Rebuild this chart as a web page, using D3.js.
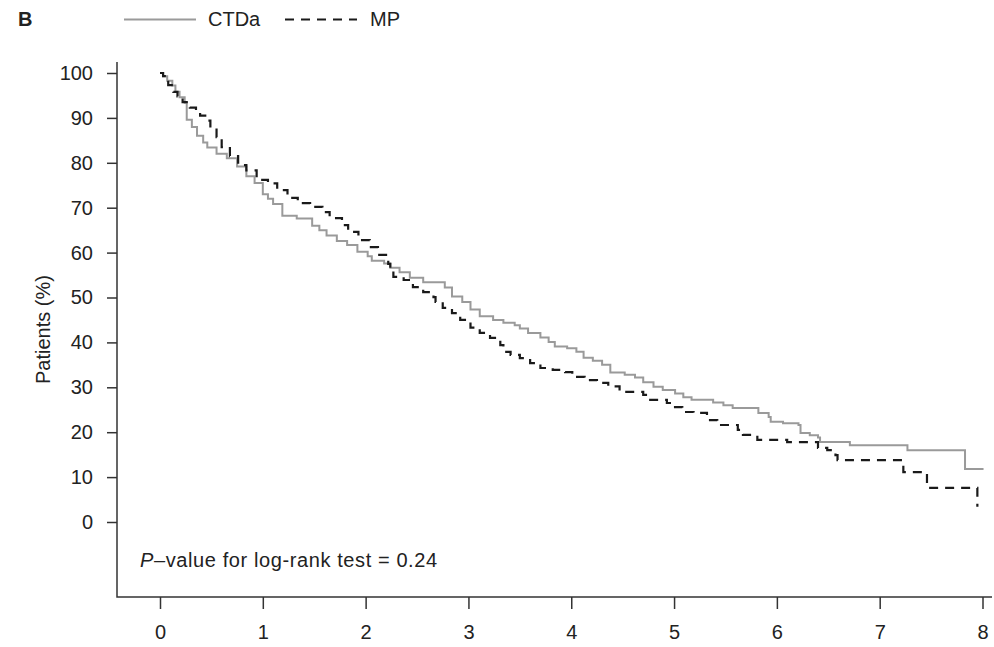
<!DOCTYPE html>
<meta charset="utf-8">
<script src="https://d3js.org/d3.v7.min.js"></script>
<style>
  body { margin: 0; background: #fff; }
  text { font-family: "Liberation Sans", Arial, Helvetica, sans-serif; fill: #222; }
</style>
<div id="chart"></div>
<script>
// Kaplan-Meier steps (time in years, % still on study)
const ctdaTime = [0, 0.03, 0.07, 0.12, 0.15, 0.19, 0.24, 0.26, 0.31, 0.36, 0.42, 0.46, 0.55, 0.65, 0.75, 0.84, 0.92, 1.00, 1.05, 1.10, 1.19, 1.33, 1.48, 1.55, 1.62, 1.72, 1.82, 1.92, 2.02, 2.06, 2.18, 2.24, 2.33, 2.43, 2.56, 2.77, 2.84, 2.94, 3.02, 3.11, 3.24, 3.34, 3.45, 3.50, 3.58, 3.70, 3.78, 3.84, 3.96, 4.05, 4.12, 4.21, 4.30, 4.38, 4.52, 4.62, 4.70, 4.80, 4.89, 5.01, 5.09, 5.17, 5.38, 5.48, 5.57, 5.82, 5.92, 5.94, 6.06, 6.21, 6.23, 6.32, 6.40, 6.42, 6.71, 7.27, 7.83, 8.01];
const ctdaSurv = [100, 99.3, 98.3, 97.2, 95.8, 94.6, 93.4, 89.6, 88, 86, 84.5, 83.4, 82, 81, 79.2, 77, 75.5, 73, 72, 70.8, 68.2, 67.6, 66, 65, 63.8, 62.6, 61.7, 60.2, 59.2, 58.2, 57.6, 56.6, 55.6, 54.4, 53.4, 52.2, 50.2, 49, 47.3, 45.8, 45, 44.4, 43.8, 43.1, 42.1, 41.1, 40.1, 39.1, 38.7, 37.9, 36.6, 35.9, 35, 33.3, 32.8, 32.2, 31.1, 30.1, 29.4, 28.6, 27.8, 27.2, 26.6, 26, 25.4, 24.3, 23.4, 22.3, 22, 21.6, 19.8, 19.3, 18.8, 17.8, 17.1, 16, 11.8, 11.8];

const mpTime = [0, 0.03, 0.08, 0.13, 0.17, 0.22, 0.29, 0.35, 0.39, 0.44, 0.49, 0.55, 0.60, 0.68, 0.76, 0.84, 0.94, 1.05, 1.14, 1.24, 1.34, 1.46, 1.58, 1.65, 1.77, 1.83, 1.93, 2.04, 2.12, 2.22, 2.24, 2.27, 2.37, 2.46, 2.56, 2.66, 2.68, 2.75, 2.84, 2.92, 3.02, 3.11, 3.21, 3.31, 3.34, 3.41, 3.50, 3.60, 3.70, 3.82, 3.94, 4.01, 4.13, 4.25, 4.36, 4.47, 4.70, 4.74, 4.93, 4.98, 5.08, 5.19, 5.32, 5.42, 5.62, 5.67, 5.81, 6.10, 6.40, 6.49, 6.57, 6.59, 7.23, 7.46, 7.95];
const mpSurv = [100, 99.3, 97.3, 95.8, 94.8, 93.5, 92.3, 91.3, 90.5, 89.4, 87.8, 85.7, 83.5, 81.5, 79.5, 78.3, 76.2, 75.4, 73.9, 72.2, 71, 70.2, 69, 67.7, 66.1, 64.6, 62.8, 61.2, 59.5, 57.5, 56.6, 54.6, 53.9, 52.3, 51.2, 50.1, 49, 47.7, 46.5, 45, 43.3, 42.1, 41, 39.4, 37.9, 37.2, 36.5, 35.4, 34.3, 33.9, 33.4, 32.3, 31.6, 31, 30.2, 29, 28.3, 27.2, 26.5, 25.6, 24.5, 24.3, 22.7, 21.6, 20.5, 19.4, 18.3, 17.8, 16.5, 16, 14.9, 13.8, 11.1, 7.6, 3.4];

const xTicks = [0, 1, 2, 3, 4, 5, 6, 7, 8];
const yTicks = [0, 10, 20, 30, 40, 50, 60, 70, 80, 90, 100];

const width = 994, height = 647;
// plot box (R style "L" box)
const box = { left: 117, right: 992, top: 62, bottom: 597 };

const svg = d3.select("#chart")
    .append("svg")
    .attr("width", width)
    .attr("height", height);

const x = d3.scaleLinear().domain([0, 8]).range([160, 982.5]);
const y = d3.scaleLinear().domain([0, 100]).range([522, 73]);

// L shaped box
svg.append("path")
    .attr("d", `M${box.left},${box.top}V${box.bottom}H${box.right}`)
    .attr("fill", "none")
    .attr("stroke", "#333")
    .attr("stroke-width", 1.5);

// y axis
const yAxis = svg.append("g")
    .attr("transform", `translate(${box.left},0)`)
    .call(d3.axisLeft(y).tickValues(yTicks).tickSize(10).tickPadding(14));
yAxis.select(".domain").remove();

// x axis
const xAxis = svg.append("g")
    .attr("transform", `translate(0,${box.bottom})`)
    .call(d3.axisBottom(x).tickValues(xTicks).tickSize(12).tickPadding(16));
xAxis.select(".domain").remove();

svg.selectAll(".tick line").attr("stroke", "#333").attr("stroke-width", 1.5);
svg.selectAll(".tick text")
    .attr("font-size", 20)
    .attr("font-family", "Liberation Sans, Arial, sans-serif")
    .attr("fill", "#222");

// survival curves
const line = d3.line()
    .x(d => x(d[0]))
    .y(d => y(d[1]))
    .curve(d3.curveStepAfter);

svg.append("path")
    .datum(d3.zip(ctdaTime, ctdaSurv))
    .attr("d", line)
    .attr("fill", "none")
    .attr("stroke", "#9a9a9a")
    .attr("stroke-width", 2);

svg.append("path")
    .datum(d3.zip(mpTime, mpSurv))
    .attr("d", line)
    .attr("fill", "none")
    .attr("stroke", "#1a1a1a")
    .attr("stroke-width", 2.2)
    .attr("stroke-dasharray", "9,7");

// y title
svg.append("text")
    .attr("transform", `translate(50,${(box.top + box.bottom) / 2}) rotate(-90)`)
    .attr("text-anchor", "middle")
    .attr("font-size", 20)
    .text("Patients (%)");

// p-value note
const note = svg.append("text")
    .attr("x", 140)
    .attr("y", 567)
    .attr("font-size", 20)
    .style("letter-spacing", "0.6px");
note.append("tspan").attr("font-style", "italic").text("P");
note.append("tspan").text("\u2013value for log-rank test = 0.24");

// panel letter and legend
svg.append("text")
    .attr("x", 18)
    .attr("y", 26)
    .attr("font-size", 20)
    .attr("font-weight", "bold")
    .text("B");

svg.append("line")
    .attr("x1", 124).attr("x2", 196)
    .attr("y1", 19.5).attr("y2", 19.5)
    .attr("stroke", "#9a9a9a")
    .attr("stroke-width", 2);
svg.append("text")
    .attr("x", 208).attr("y", 26)
    .attr("font-size", 20)
    .text("CTDa");

svg.append("line")
    .attr("x1", 285).attr("x2", 357)
    .attr("y1", 19.5).attr("y2", 19.5)
    .attr("stroke", "#1a1a1a")
    .attr("stroke-width", 2.2)
    .attr("stroke-dasharray", "9,7");
svg.append("text")
    .attr("x", 370).attr("y", 26)
    .attr("font-size", 20)
    .text("MP");
</script>
